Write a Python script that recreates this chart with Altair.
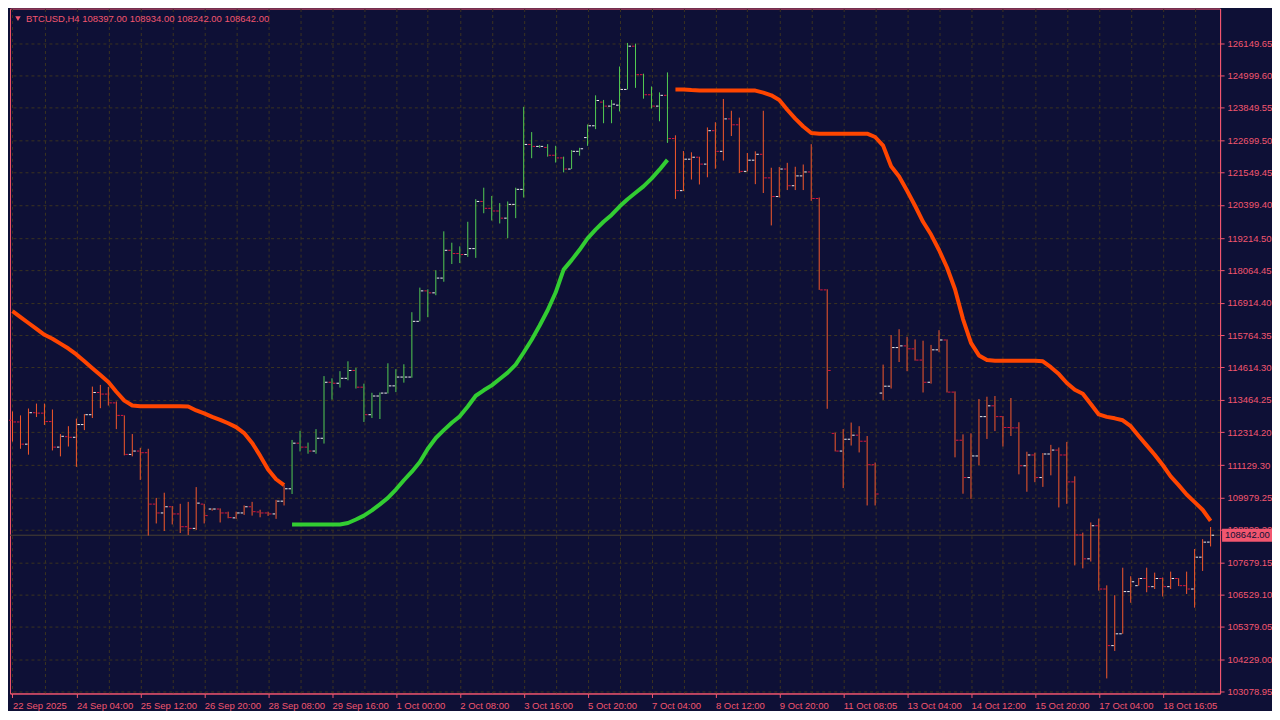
import json
import altair as alt
import pandas as pd

symbol = "BTCUSD,H4"

x_labels = ["22 Sep 2025", "24 Sep 04:00", "25 Sep 12:00", "26 Sep 20:00", "28 Sep 08:00",
            "29 Sep 16:00", "1 Oct 00:00", "2 Oct 08:00", "3 Oct 16:00", "5 Oct 20:00",
            "7 Oct 04:00", "8 Oct 12:00", "9 Oct 20:00", "11 Oct 08:05", "13 Oct 04:00",
            "14 Oct 12:00", "15 Oct 20:00", "17 Oct 04:00", "18 Oct 16:05"]

y_ticks = [126149.65, 124999.60, 123849.55, 122699.50, 121549.45, 120399.40, 119214.50,
           118064.45, 116914.40, 115764.35, 114614.30, 113464.25, 112314.20, 111129.30,
           109979.25, 108829.20, 107679.15, 106529.10, 105379.05, 104229.00, 103078.95]

opens = [112732, 112672, 111882, 113001, 112987, 112686, 111777, 112148, 112127, 112580,
         112931, 113721, 113665, 113351, 112906, 111518, 111637, 111578, 109749, 109434,
         109654, 109399, 108944, 108885, 109749, 109574, 109574, 109434, 109259, 109434,
         109654, 109469, 109434, 109399, 109854, 110294, 111917, 111777, 111637, 112092,
         114085, 114050, 114225, 114505, 113910, 112931, 113595, 113700, 113956, 114270,
         114270, 116253, 117337, 117267, 117792, 118781, 118666, 118631, 118841, 120519,
         120275, 120180, 119925, 120415, 120950, 122548, 122478, 122443, 122163, 122069,
         121673, 122303, 122792, 123212, 124055, 123912, 123946, 124506, 126045, 125031,
         124317, 123912, 124296, 122758, 120904, 122023, 122093, 121848, 123037, 122303,
         123457, 123247, 121590, 121988, 122198, 121359, 120694, 121673, 121079, 121429,
         121569, 120624, 117372, 112267, 111637, 112057, 112202, 111987, 111148, 113700,
         113945, 115319, 115379, 115274, 114875, 114085, 115239, 115589, 113735, 112022,
         110693, 111462, 112861, 113246, 112861, 112476, 112462, 111113, 111497, 110693,
         111532, 111672, 111497, 110539, 108651, 107801, 108979, 106727, 104713, 105133,
         106636, 106846, 107101, 106811, 107101, 106811, 107101, 106846, 106727, 107860,
         108397.00]

highs = [113046, 112906, 113151, 113326, 113326, 113116, 112242, 112522, 112791, 112952,
         113931, 113991, 113921, 113400, 112906, 112242, 111752, 111718, 109969, 110154,
         109680, 109759, 109829, 110354, 109759, 109595, 109595, 109479, 109479, 109700,
         109829, 109549, 109479, 109899, 110424, 112032, 112357, 111938, 112417, 114305,
         114225, 114480, 114830, 114596, 114036, 113711, 113720, 114760, 114550, 114725,
         116578, 117453, 117393, 118072, 119456, 119051, 118921, 119796, 120600, 121009,
         120715, 120460, 120519, 121009, 123887, 122988, 122523, 122558, 122499, 122114,
         122348, 122429, 123258, 124296, 124132, 124132, 125321, 126160, 126136, 125066,
         124611, 124401, 125111, 122873, 122313, 122268, 122110, 123153, 123338, 124167,
         123747, 123502, 122243, 122303, 123747, 121719, 121743, 121894, 121754, 121834,
         122558, 120659, 117393, 112290, 112417, 112651, 112522, 112172, 111228, 114714,
         115764, 115973, 115704, 115610, 115564, 115414, 115938, 115610, 113760, 112231,
         112267, 113490, 113571, 113595, 112882, 113525, 112662, 111613, 111578, 111567,
         111857, 111763, 111962, 110738, 108735, 109095, 109235, 106857, 106507, 107486,
         107182, 107120, 107486, 107311, 107136, 107346, 107112, 107346, 108151, 108500,
         108934.00]

lows = [111973, 111718, 111508, 112847, 112566, 111658, 111448, 111798, 111074, 112382,
        112812, 113162, 113256, 112417, 111483, 111448, 110609, 108630, 109060, 108791,
        109025, 108721, 108651, 108825, 109060, 109514, 109095, 109245, 109224, 109364,
        109340, 109280, 109329, 109224, 109700, 110109, 111623, 111543, 111543, 111903,
        113466, 113896, 114155, 113861, 112672, 112812, 112777, 113686, 113735, 114071,
        114246, 116253, 116403, 117183, 117662, 118292, 118327, 118547, 118512, 120100,
        119841, 119736, 119212, 119925, 120659, 122058, 122429, 122114, 121904, 121555,
        121673, 122149, 122499, 123093, 123303, 123303, 123723, 124506, 124562, 124177,
        123828, 123373, 122604, 120610, 120890, 121299, 121124, 121380, 121684, 121974,
        122848, 121534, 121590, 121135, 120820, 119666, 120659, 120925, 120925, 120925,
        120540, 117372, 113141, 111623, 110319, 111833, 111588, 109700, 109700, 113456,
        113861, 114805, 114480, 114854, 113721, 114036, 115155, 113721, 111413, 110119,
        109934, 111133, 112067, 112348, 111798, 112172, 110808, 110189, 110529, 110362,
        110773, 109630, 109759, 107567, 107462, 107706, 106671, 103545, 104524, 105133,
        106238, 106846, 106612, 106727, 106461, 106727, 106832, 106552, 106063, 107371,
        108242.00]

closes = [112672, 111882, 113001, 112987, 112686, 111777, 112162, 112127, 112580, 112931,
          113721, 113665, 113351, 112906, 111518, 111637, 111578, 109749, 109434, 109654,
          109399, 108944, 108885, 109784, 109340, 109574, 109434, 109270, 109434, 109654,
          109479, 109434, 109399, 109854, 110294, 111917, 111777, 111637, 112092, 114085,
          114050, 114225, 114505, 113910, 112931, 113595, 113700, 113956, 114270, 114270,
          116253, 117337, 117267, 117792, 118781, 118666, 118631, 118841, 120519, 120275,
          120180, 119925, 120415, 120950, 122548, 122478, 122478, 122163, 122069, 121673,
          122303, 122394, 123212, 124111, 123912, 123981, 124506, 126045, 125031, 124317,
          123912, 124296, 122758, 120904, 122023, 122093, 121848, 123037, 122303, 123457,
          123247, 121590, 121988, 122198, 121359, 120694, 121673, 121079, 121429, 121569,
          120624, 117372, 114505, 111637, 112057, 112202, 111987, 111148, 110109, 113945,
          115319, 115379, 115274, 114875, 114085, 115239, 115589, 113735, 112022, 110693,
          111462, 112861, 113246, 112861, 112476, 112462, 111113, 111497, 110693, 111532,
          111672, 111497, 110539, 108651, 107801, 108979, 106727, 104713, 105133, 106636,
          106986, 107101, 106811, 107101, 106811, 107101, 106846, 106727, 107860, 108395,
          108642.00]

indicator = [116613, 116403, 116194, 115984, 115774, 115634, 115459, 115284, 115075, 114830,
             114585, 114340, 114095, 113746, 113431, 113256, 113232, 113232, 113232, 113232,
             113232, 113232, 113221, 113081, 112976, 112854, 112749, 112627, 112487, 112277,
             111927, 111473, 110983, 110633, 110424, 109025, 109025, 109025, 109025, 109025,
             109025, 109025, 109077, 109200, 109340, 109525, 109742, 109969, 110266, 110598,
             110903, 111245, 111718, 112102, 112382, 112644, 112872, 113221, 113606, 113798,
             113973, 114200, 114428, 114714, 115145, 115599, 116106, 116648, 117278, 118093,
             118432, 118799, 119208, 119516, 119796, 120040, 120338, 120600, 120827, 121055,
             121334, 121649, 121999, 124506, 124506, 124482, 124471, 124471, 124471, 124471,
             124471, 124471, 124471, 124464, 124394, 124296, 124132, 123782, 123467, 123188,
             122953, 122932, 122932, 122932, 122932, 122932, 122932, 122932, 122813, 122506,
             121771, 121404, 120897, 120366, 119796, 119341, 118792, 118169, 117393, 116334,
             115484, 115040, 114875, 114854, 114854, 114854, 114854, 114854, 114854, 114830,
             114620, 114375, 114060, 113816, 113676, 113309, 112941, 112854, 112802, 112732,
             112522, 112172, 111840, 111508, 111141, 110738, 110424, 110091, 109819, 109549,
             109150]

trend_starts = [0, 35, 83]
trend_names = ["down", "up", "down"]

# ---- styling ----
BG = "#0e1036"
PINK = "#f2566f"
GRID = "#3b3320"
ORANGE_LINE = "#ff4500"
GREEN_LINE = "#32cd32"
ORANGE_BAR = "#f5582a"
GREEN_BAR = "#52cc52"
BULL = "#f2f2f2"
BEAR = "#dc143c"
PRICE_LINE = "#4a4232"
FONT = "Liberation Sans"
FS = 9.5

n = len(opens)
seg_id, trend = [], []
for i in range(n):
    k = max(j for j, s in enumerate(trend_starts) if s <= i)
    seg_id.append(k)
    trend.append(trend_names[k])

df = pd.DataFrame({"i": list(range(n)), "open": opens, "high": highs, "low": lows,
                   "close": closes, "ind": indicator, "seg": seg_id, "trend": trend})

W, H = 1212, 686
# 8 px per bar, bar centres on half pixels for crisp 1px strokes
xs = alt.Scale(domain=[-0.3125, 151.1875], nice=False, zero=False)
ys = alt.Scale(domain=[103010, 127384], nice=False, zero=False)

label_js = json.dumps(x_labels)
xaxis = alt.Axis(
    values=list(range(0, 152, 4)),
    labelExpr=f"datum.value % 8 === 0 ? {label_js}[datum.value / 8] : ''",
    grid=True, gridColor=GRID, gridDash=[3, 3], gridWidth=1,
    domainColor=PINK,
    tickColor={"condition": {"test": "datum.value % 8 === 0", "value": PINK}, "value": "transparent"},
    tickSize=4, labelColor=PINK, labelFont=FONT, labelFontSize=FS,
    labelAlign="left", labelBaseline="top", labelPadding=3,
    labelOverlap=False, labelBound=False, labelFlush=False, title=None)

yaxis = alt.Axis(
    orient="right", values=y_ticks, format=".2f",
    grid=True, gridColor=GRID, gridDash=[3, 3], gridWidth=1,
    domainColor=PINK, tickColor=PINK, tickSize=4,
    labelColor=PINK, labelFont=FONT, labelFontSize=FS, labelPadding=3,
    labelOverlap=False, labelBound=False, labelFlush=False, title=None)


def X(field):
    return alt.X(field, type="quantitative", scale=xs, axis=xaxis)


def Y(field):
    return alt.Y(field, type="quantitative", scale=ys, axis=yaxis)


base = alt.Chart(df)
tick_color = alt.condition(alt.datum.close >= alt.datum.open, alt.value(BULL), alt.value(BEAR))

bars = base.mark_rule(strokeWidth=1).encode(
    x=X("i"), y=Y("low"), y2="high",
    color=alt.condition(alt.datum.trend == "up", alt.value(GREEN_BAR), alt.value(ORANGE_BAR)))

open_ticks = base.mark_rule(strokeWidth=1, xOffset=-3.5, x2Offset=-1).encode(
    x=X("i"), x2="i", y=Y("open"), color=tick_color)

close_ticks = base.mark_rule(strokeWidth=1, xOffset=1, x2Offset=3.5).encode(
    x=X("i"), x2="i", y=Y("close"), color=tick_color)

line = base.mark_line(strokeWidth=4, strokeJoin="round").encode(
    x=X("i"), y=Y("ind"), detail="seg:N",
    color=alt.condition(alt.datum.trend == "up", alt.value(GREEN_LINE), alt.value(ORANGE_LINE)))

pdf = pd.DataFrame({"p": [closes[-1]]})
price_rule = alt.Chart(pdf).mark_rule(color=PRICE_LINE, strokeWidth=1).encode(y=Y("p"))
price_box = alt.Chart(pdf).mark_rect(color=PINK, yOffset=-6.5, y2Offset=6.5).encode(
    x=alt.value(W + 2), x2=alt.value(W + 52), y=Y("p"), y2="p")
price_text = alt.Chart(pdf).mark_text(align="left", baseline="middle", font=FONT,
                                      fontSize=FS, color=BG).encode(
    x=alt.value(W + 5), y=Y("p"), text=alt.Text("p:Q", format=".2f"))

header_str = symbol + "  " + " ".join(f"{v:.2f}" for v in (opens[-1], highs[-1], lows[-1], closes[-1]))
hdf = pd.DataFrame({"t": [header_str]})
header = alt.Chart(hdf).mark_text(align="left", baseline="middle", font=FONT,
                                  fontSize=FS, color=PINK).encode(
    x=alt.value(16), y=alt.value(10), text="t:N")
triangle = alt.Chart(hdf).mark_point(shape="triangle-down", filled=True, size=30,
                                     color=PINK, opacity=1).encode(
    x=alt.value(8), y=alt.value(10))

chart = alt.layer(
    price_rule, bars, open_ticks, close_ticks, line, price_box, price_text, header, triangle
).properties(
    width=W, height=H, background=BG,
    padding={"left": 0, "top": 0, "right": 0, "bottom": 0}
).configure_view(fill=BG, stroke=PINK, strokeWidth=1)

chart.save("out.html", embed_options={"renderer": "svg", "actions": False})
